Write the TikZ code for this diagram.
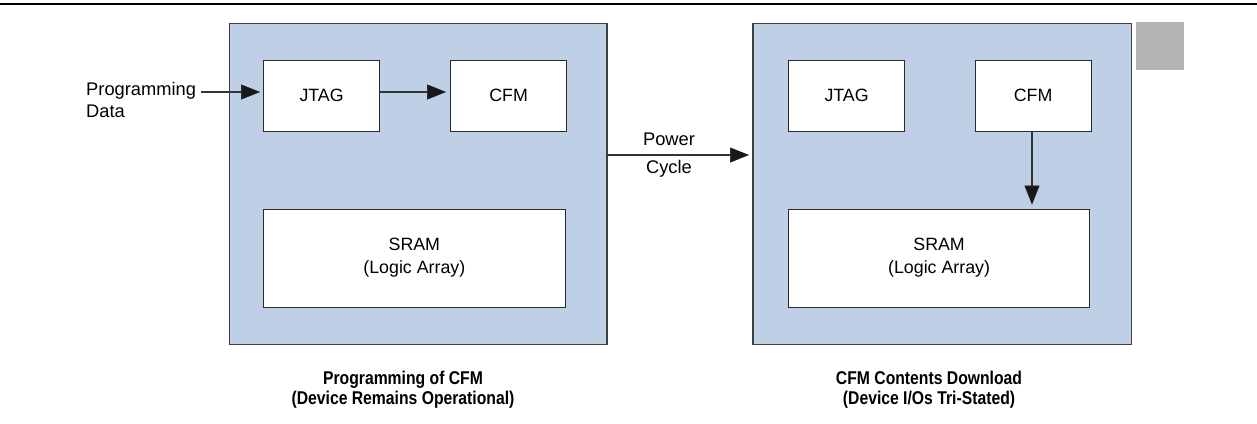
\documentclass[tikz,border=0pt]{standalone}
\usepackage{fontspec}
\setmainfont{Liberation Sans}
\newfontfamily\capfont[FakeStretch=0.85]{Liberation Sans}
\usetikzlibrary{arrows.meta}
\definecolor{panelblue}{HTML}{BFD0E6}
\definecolor{edgegray}{HTML}{404040}
\definecolor{boxedge}{HTML}{2A2A2A}
\definecolor{tabgray}{HTML}{B3B3B3}
\definecolor{linegray}{HTML}{333333}
\tikzset{
  panel/.style={draw=edgegray, line width=1.5pt, fill=panelblue, anchor=north west, inner sep=0pt},
  blk/.style={draw=boxedge, line width=1.2pt, fill=white, align=center, anchor=north west,
    font=\fontsize{17.8}{23}\selectfont, inner sep=0pt},
  lbl/.style={font=\fontsize{18.3}{20}\selectfont, inner sep=0pt},
  captext/.style={font=\capfont\bfseries\fontsize{18.5}{20}\selectfont, align=center, inner sep=0pt},
  conn/.style={line width=1.3pt, draw=linegray, -{Triangle[length=19pt,width=15pt,color=black!90,line width=0.5pt]}},
}
\begin{document}
\begin{tikzpicture}[x=1pt,y=-1pt]
\useasboundingbox (0,0) rectangle (1257,423);
\draw[line width=1.8pt, black] (0,4) -- (1257,4);
% panels
\node[panel, minimum width=377.5pt, minimum height=321pt] (p1) at (228.5,22.5) {};
\node[panel, minimum width=378.5pt, minimum height=321pt] (p2) at (752,22.5) {};
\node[fill=tabgray, minimum width=48pt, minimum height=48pt, anchor=north west, inner sep=0pt] (tab) at (1136,22) {};
% left blocks
\node[blk, minimum width=116pt, minimum height=71pt] (j1) at (263,59.5) {JTAG};
\node[blk, minimum width=116pt, minimum height=71pt] (c1) at (450,59.5) {CFM};
\node[blk, minimum width=301.5pt, minimum height=98pt] (s1) at (263,208.5) {SRAM\\(Logic Array)};
% right blocks
\node[blk, minimum width=116pt, minimum height=71pt] (j2) at (788,59.5) {JTAG};
\node[blk, minimum width=116pt, minimum height=71pt] (c2) at (974.5,59.5) {CFM};
\node[blk, minimum width=301pt, minimum height=98pt] (s2) at (788,208.5) {SRAM\\(Logic Array)};
% labels
\node[lbl, anchor=west] (pd1) at (86,90.5) {Programming};
\node[lbl, anchor=west] (pd2) at (86,111) {Data};
\coordinate (pdend) at (200.5,92);
\draw[conn, shorten >=3pt] (pdend) -- (j1.west |- pdend);
\draw[conn, shorten >=4pt] (j1.east |- pdend) -- (c1.west |- pdend);
\coordinate (pcs) at (606,155);
\draw[conn, shorten >=3pt] (pcs) -- (p2.west |- pcs);
\node[lbl] (pw) at (669,139) {Power};
\node[lbl] (cy) at (669,169) {Cycle};
\coordinate (cfmx) at (1032,130.5);
\draw[conn, shorten >=4pt] (cfmx) -- (cfmx |- s2.north);
% captions
\node[captext] (cap1) at (403,390) {Programming of CFM\\(Device Remains Operational)};
\node[captext] (cap2) at (929,390) {CFM Contents Download\\(Device I/Os Tri-Stated)};
\end{tikzpicture}
\end{document}
